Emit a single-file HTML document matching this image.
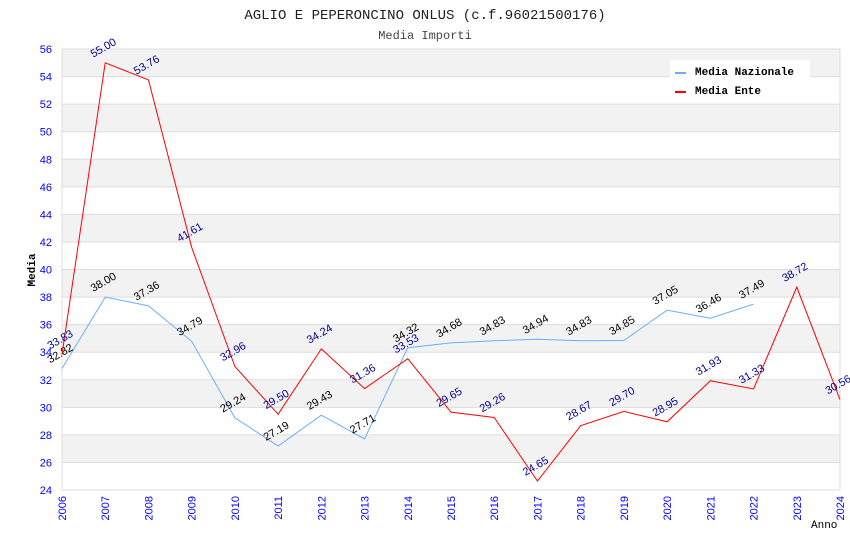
<!DOCTYPE html>
<html><head><meta charset="utf-8"><style>
body{margin:0;background:#fff}
svg{display:block;font-family:"Liberation Sans",sans-serif}
.mono{font-family:"Liberation Mono",monospace}
</style></head><body>
<svg id="c" width="850" height="550">
<text class="mono" x="425" y="19" text-anchor="middle" font-size="14" fill="#222">AGLIO E PEPERONCINO ONLUS (c.f.96021500176)</text>
<text class="mono" x="425" y="39" text-anchor="middle" font-size="12" fill="#444">Media Importi</text>
<g id="bands"></g><g id="ticks"></g><g id="series"></g>
<text class="mono" x="35" y="270" font-size="11" font-weight="bold" transform="rotate(-90 35 270)" text-anchor="middle">Media</text>
<text class="mono" x="811" y="528" font-size="11">Anno</text>
<g>
<rect x="670" y="60" width="140" height="40" fill="#fff"/>
<line x1="675" y1="73" x2="686" y2="73" stroke="#6aaeff" stroke-width="2"/>
<text class="mono" x="695" y="75" font-size="11" font-weight="bold">Media Nazionale</text>
<line x1="675" y1="92" x2="686" y2="92" stroke="#f00" stroke-width="2"/>
<text class="mono" x="695" y="94" font-size="11" font-weight="bold">Media Ente</text>
</g>
</svg>
<script>
const years=[2006,2007,2008,2009,2010,2011,2012,2013,2014,2015,2016,2017,2018,2019,2020,2021,2022,2023,2024];
const nazionale=[32.82,38.00,37.36,34.79,29.24,27.19,29.43,27.71,34.32,34.68,34.83,34.94,34.83,34.85,37.05,36.46,37.49];
const ente=[33.83,55.00,53.76,41.61,32.96,29.50,34.24,31.36,33.53,29.65,29.26,24.65,28.67,29.70,28.95,31.93,31.33,38.72,30.56];
const yTicks=[24,26,28,30,32,34,36,38,40,42,44,46,48,50,52,54,56];
const NS="http://www.w3.org/2000/svg";
const L=62,R=840,T=49,B=490,ymin=24,ymax=56;
const xs=i=>L+(R-L)*(years[i]-years[0])/(years[years.length-1]-years[0]);
const ys=v=>B-(B-T)*(v-ymin)/(ymax-ymin);
function mk(t,a,p){const e=document.createElementNS(NS,t);for(const k in a)e.setAttribute(k,a[k]);p.appendChild(e);return e;}
const bands=document.getElementById('bands'),ticks=document.getElementById('ticks'),ser=document.getElementById('series');
for(let i=0;i<yTicks.length-1;i++){
 const r=mk('rect',{x:L,y:ys(yTicks[i+1]),width:R-L,height:ys(yTicks[i])-ys(yTicks[i+1]),fill:(yTicks.length-2-i)%2==0?'#f2f2f2':'#fff'},bands);
 
 
}
yTicks.forEach(v=>{
 const l=mk('line',{x1:L,x2:R,y1:ys(v),y2:ys(v),stroke:'#ddd'},ticks);
 
 
 const t=mk('text',{x:L-10,y:ys(v)+4,'text-anchor':'end','font-size':11,fill:'#00f'},ticks);t.textContent=v;
 
 
});
mk('line',{x1:R,x2:R,y1:T,y2:B,stroke:'#ddd'},ticks);
mk('line',{x1:L,x2:L,y1:T,y2:B,stroke:'#ddd'},ticks);
years.forEach((y,i)=>{
 const x=xs(i);
 const t=mk('text',{x:x+4,y:B+6,'text-anchor':'end','font-size':11,fill:'#00f',transform:`rotate(-90 ${x+4} ${B+6})`},ticks);t.textContent=y;
 
 
});
function draw(vals,color,lab,name){
 const p=mk('polyline',{points:vals.map((v,i)=>xs(i)+','+ys(v)).join(' '),fill:'none',stroke:color,'stroke-width':1},ser);
 
 
 vals.forEach((v,i)=>{
  const x=xs(i)-12,y=ys(v)-5;
  const t=mk('text',{x:x,y:y,'font-size':11,fill:lab,transform:`rotate(-30 ${x} ${y})`},ser);t.textContent=v.toFixed(2);
  
  
 });
}
draw(nazionale,'#6aaeff','#000','nazionale');
draw(ente,'#f00','#00008b','ente');
</script>
</body></html>
